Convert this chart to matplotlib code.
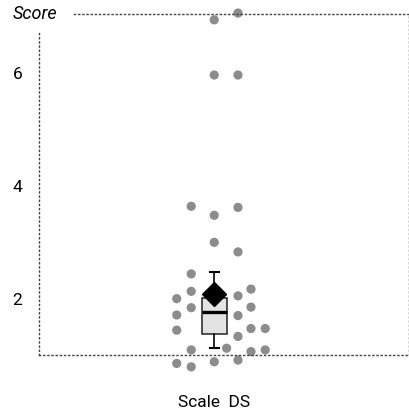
import matplotlib
matplotlib.use('Agg')
import matplotlib.pyplot as plt

plt.rcParams['font.family'] = ['Roboto', 'DejaVu Sans']

# scores, with the beeswarm slot of each point
scores = [6.95, 7.07, 5.97, 5.97, 3.64, 3.48, 3.62, 3.00, 2.83,
          2.44, 2.13, 1.84, 1.09, 0.79,
          2.00, 1.71, 1.44, 0.85,
          0.88, 1.12,
          2.05, 1.70, 1.33, 0.91,
          2.17, 1.85, 1.47, 1.06,
          1.47, 1.09]
slots = [0, 1, 0, 1, -1, 0, 1, 0, 1,
         -1, -1, -1, -1, -1,
         -2, -2, -2, -2,
         0, 0.5,
         1, 1, 1, 1,
         2, 2, 2, 2,
         3, 3]
slot_x = {-2: -3.0, -1: -1.84, 0: 0.0, 0.5: 0.99, 1: 1.9, 2: 2.94, 3: 4.08}

# box summary as drawn in the chart
box_stats = dict(label='Scale  DS', whislo=1.12, q1=1.37, med=1.77,
                 q3=2.02, whishi=2.47, mean=2.08, fliers=[])

fig = plt.figure(figsize=(4.1, 4.15), dpi=100)
ax = fig.add_axes([0.0951, 0.1446, 0.9024, 0.8212])

xs = [slot_x[s] for s in slots]
ax.scatter(xs, scores, s=44, color='#8c8c8c', edgecolors='none', zorder=2, clip_on=False)

ax.bxp([box_stats], positions=[0], widths=1.97, showmeans=True, patch_artist=True,
       boxprops=dict(facecolor='#e3e3e3', edgecolor='#222222', linewidth=1.1),
       medianprops=dict(color='black', linewidth=2.4),
       whiskerprops=dict(color='black', linewidth=1.2),
       capprops=dict(color='black', linewidth=1.5),
       capwidths=0.75,
       meanprops=dict(marker='D', markerfacecolor='black', markeredgecolor='black',
                      markersize=12),
       zorder=3)

ax.set_xlim(-14.02, 15.58)
ax.set_ylim(1.0, 7.05)
ax.set_yticks([2, 4, 6])
ax.set_xticks([0])
ax.set_xticklabels(['Scale  DS'])
ax.tick_params(axis='both', length=0, labelsize=12.5)
ax.tick_params(axis='y', pad=12)
ax.tick_params(axis='x', pad=29)

for side in ['left', 'right', 'top', 'bottom']:
    ax.spines[side].set_linestyle((0, (0.8, 2.2)))
    ax.spines[side].set_linewidth(1.0)
    ax.spines[side].set_color('#444444')
ax.spines['left'].set_bounds(1.0, 6.73)
ax.spines['top'].set_bounds(-11.2, 15.58)

ax.text(-14.38, 7.05, 'Score', style='italic', fontsize=13,
        ha='center', va='center')

fig.savefig('out.png', dpi=100)
